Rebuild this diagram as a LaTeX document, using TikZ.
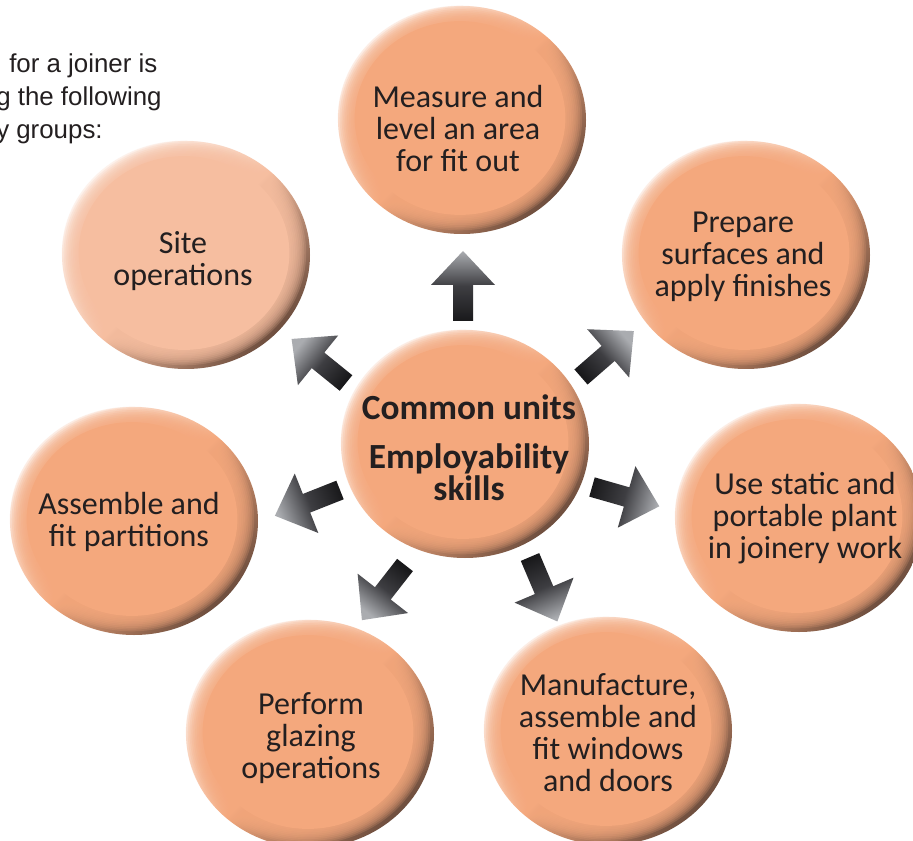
\documentclass[tikz,border=0pt]{standalone}
\usepackage{fontspec}
\setmainfont{Carlito}
\newfontfamily\introfont{Liberation Sans}
\usetikzlibrary{shapes.geometric,calc}

\definecolor{unitorange}{RGB}{244,168,125}
\definecolor{unitpale}{RGB}{246,190,160}
\definecolor{rimdark}{RGB}{110,78,62}
\definecolor{arrowdark}{RGB}{25,25,27}
\definecolor{arrowmid}{RGB}{62,62,66}
\definecolor{arrowlight}{RGB}{170,172,176}
\definecolor{inktext}{RGB}{35,31,32}

% bevelled ball at node #1 in colour #2
\newcommand{\unitball}[2]{%
  \shade[top color=white, bottom color=rimdark, middle color=#2, shading angle=45] (#1) ellipse [x radius=124, y radius=114];
  \foreach \s in {0.985,0.97,...,0.86} {\fill[#2, opacity=0.2] ($(#1)+(-2,2)$) ellipse [x radius={124*\s}, y radius={114*\s}];}
  \fill[#2] ($(#1)+(-2,2)$) ellipse [x radius=105.4, y radius=96.9];}

% block arrow: #1 tail coordinate, #2 direction
\newcommand{\unitarrow}[2]{%
  \pgfmathsetmacro{\shadeang}{#2-90}%
  \shade[top color=arrowlight, bottom color=arrowdark, middle color=arrowmid, shading angle=\shadeang]
    ($(#1)+(#2+90:10)$) -- ($(#1)+(#2:36)+(#2+90:10)$) -- ($(#1)+(#2:36)+(#2+90:32)$)
    -- ($(#1)+(#2:70)$) -- ($(#1)+(#2:36)+(#2-90:32)$) -- ($(#1)+(#2:36)+(#2-90:10)$)
    -- ($(#1)+(#2-90:10)$) -- cycle;}

\begin{document}
\begin{tikzpicture}[x=0.75pt, y=0.75pt,
  unit/.style={ellipse, minimum width=186pt, minimum height=171pt, inner sep=0},
  unittext/.style={align=center, text=inktext, inner sep=0, font=\fontsize{24}{24}\selectfont},
  coretext/.style={unittext, font=\bfseries\fontsize{26.5}{24}\selectfont},
  intro/.style={inner sep=0, text=inktext, font=\introfont\fontsize{19.4}{22}\selectfont}]
\useasboundingbox (0,0) rectangle (913,840);
\fill[white] (0,0) rectangle (913,840);

\node[intro, anchor=base west] (intro1) at (9,767) {for a joiner is};
\node[intro, anchor=base west] (intro2) at (-4,734) {g the following};
\node[intro, anchor=base west] (intro3) at (-4,701) {y groups:};

\node[unit] (core) at (465,396) {};
\node[unit] (measure) at (462,720) {};
\node[unit] (site) at (186,585) {};
\node[unit] (prepare) at (746,585) {};
\node[unit] (plant) at (799,322) {};
\node[unit] (partition) at (134,319) {};
\node[unit] (glazing) at (310,106) {};
\node[unit] (windows) at (608,109) {};
\unitball{measure}{unitorange}
\unitball{site}{unitpale}
\unitball{prepare}{unitorange}
\unitball{plant}{unitorange}
\unitball{partition}{unitorange}
\unitball{glazing}{unitorange}
\unitball{windows}{unitorange}
\unitball{core}{unitorange}

\coordinate (a-measure) at (463,519);
\coordinate (a-site) at (346,457);
\coordinate (a-prepare) at (581,463);
\coordinate (a-plant) at (592,353);
\coordinate (a-partition) at (340,350);
\coordinate (a-glazing) at (405,275);
\coordinate (a-windows) at (530,283);
\unitarrow{a-measure}{90}
\unitarrow{a-site}{141}
\unitarrow{a-prepare}{41}
\unitarrow{a-plant}{-16}
\unitarrow{a-partition}{201.6}
\unitarrow{a-glazing}{232}
\unitarrow{a-windows}{-67}

\node[coretext] (core-t) at (469,392) {Common units\\[13pt]Employability\\skills};
\node[unittext] (measure-t) at (458,711) {Measure and\\level an area\\for fit out};
\node[unittext] (site-t) at (183,579) {Site\\operations};
\node[unittext] (prepare-t) at (743,583) {Prepare\\surfaces and\\apply finishes};
\node[unittext] (plant-t) at (805,322) {Use static and\\portable plant\\in joinery work};
\node[unittext] (partition-t) at (129,318) {Assemble and\\fit partitions};
\node[unittext] (glazing-t) at (311,102) {Perform\\glazing\\operations};
\node[unittext] (windows-t) at (608,107) {Manufacture,\\assemble and\\fit windows\\and doors};
\end{tikzpicture}
\end{document}
